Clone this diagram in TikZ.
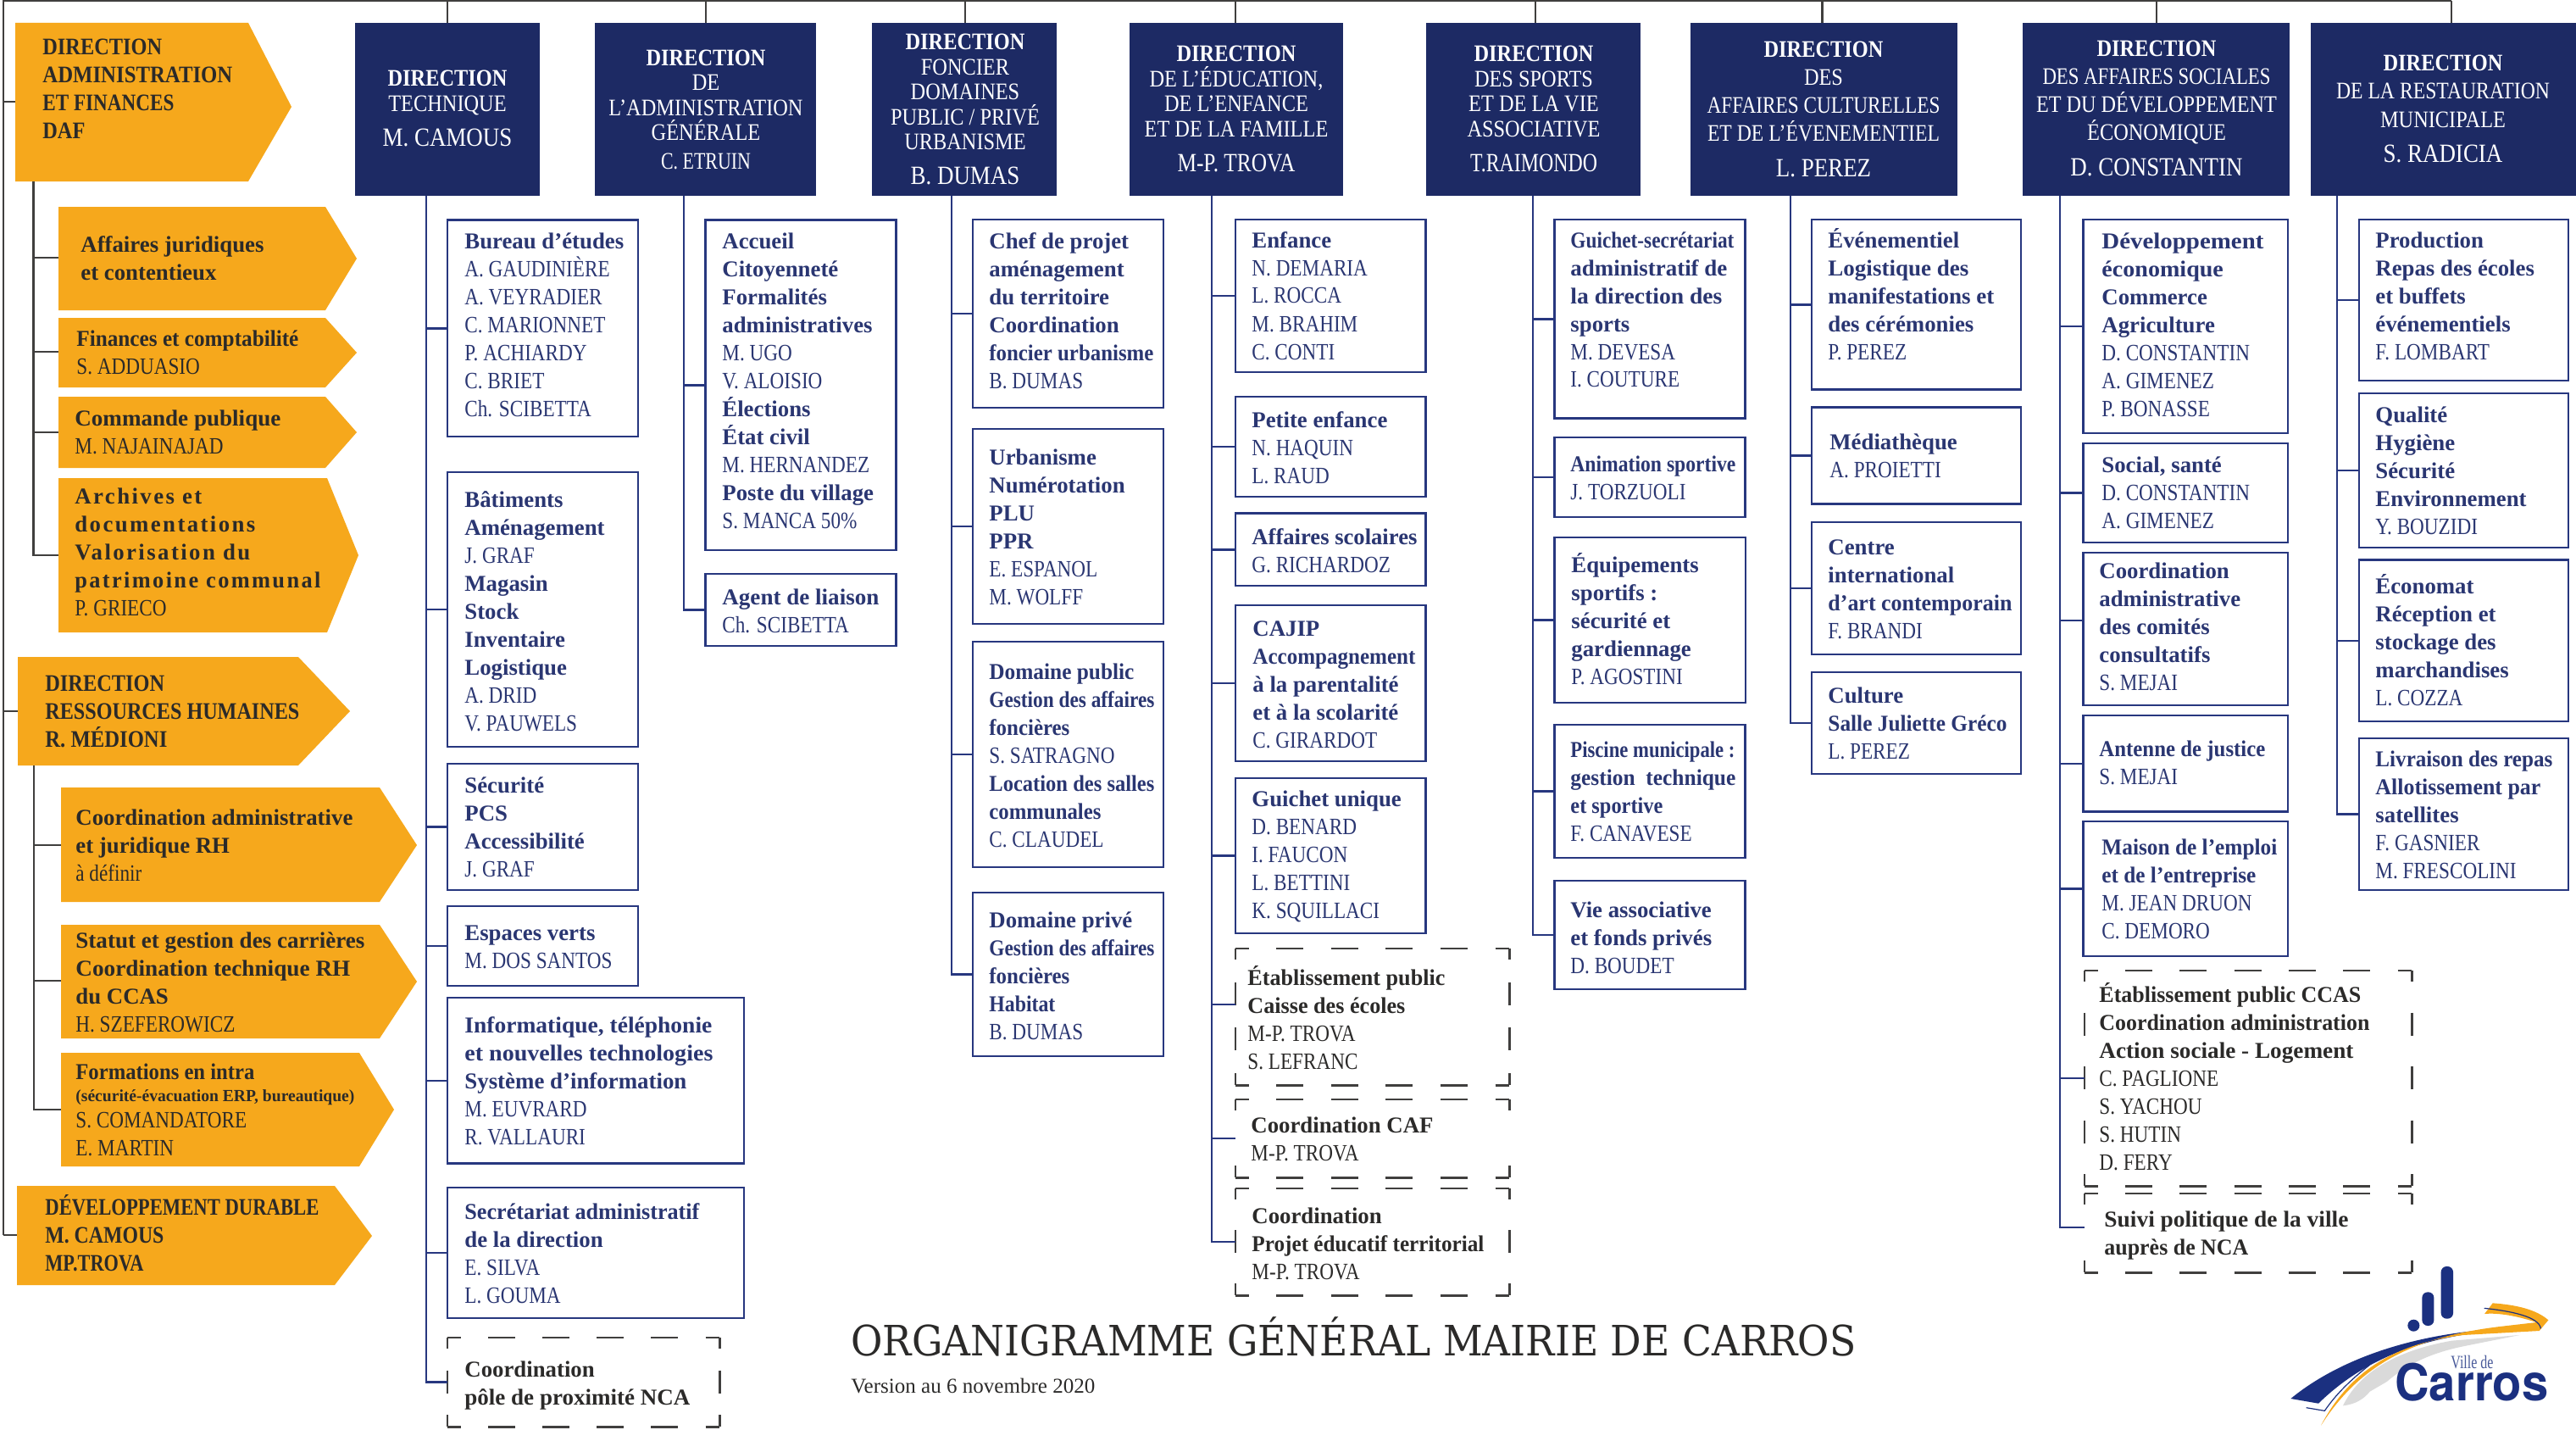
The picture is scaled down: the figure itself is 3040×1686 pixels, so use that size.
\documentclass[tikz,border=0pt]{standalone}
\usepackage{fontspec}
\usepackage{graphicx}
\usetikzlibrary{fit}
\setmainfont{Liberation Serif}
\newfontfamily\nmf{Liberation Serif}[FakeStretch=0.84]
\newfontfamily\hdf{Liberation Serif}[FakeStretch=0.87]
\newfontfamily\arcf{Liberation Serif}[LetterSpace=9]
\newfontfamily\slabf{DejaVu Serif}
\newfontfamily\sansf{TeX Gyre Heros}
\definecolor{hdr}{HTML}{1D2A64}
\definecolor{frm}{HTML}{27377F}
\definecolor{org}{HTML}{F6A81C}
\definecolor{drk}{HTML}{2B2A29}
\definecolor{txn}{HTML}{2A3672}
\definecolor{lgb}{HTML}{1B3080}
\definecolor{lgg}{HTML}{DADADA}
\newcommand\Bo[1]{{\fontsize{13.4}{16.5}\selectfont\bfseries #1}}
\newcommand\Na[1]{{\nmf\fontsize{13.8}{16.5}\selectfont #1}}
\newcommand\Ar[1]{{\arcf\fontsize{13.4}{16.5}\selectfont\bfseries #1}}
\newcommand\Hb[1]{{\hdf\fontsize{14}{14.7}\selectfont\bfseries #1}}
\newcommand\Hr[1]{{\hdf\fontsize{14}{14.7}\selectfont #1}}
\newcommand\Hn[1]{{\hdf\fontsize{15.5}{14.7}\selectfont #1}}
\newsavebox\fitbox
\newcommand\fitw[2]{\sbox\fitbox{#2}\pgfmathsetmacro\fitsx{#1*0.5/(\the\wd\fitbox)}\scalebox{\fitsx}[1]{\usebox\fitbox}}
\newcommand\Bf[2]{\fitw{#1}{\Bo{#2}}}
\newcommand\Hf[2]{\fitw{#1}{\Hb{#2}}}
\newcommand\Rf[2]{\fitw{#1}{\Hr{#2}}}
\newcommand\Mf[2]{\fitw{#1}{\Hn{#2}}}
\newcommand\stkcr[1][0pt]{\cr\noalign{\vskip#1}}
\newcommand\stkl[2]{\vtop{\baselineskip=#1pt\lineskiplimit=-100pt\lineskip=0pt\tabskip=0pt\let\\\stkcr\halign{##\hfil\cr #2\cr}}}
\newcommand\stkc[2]{\vtop{\baselineskip=#1pt\lineskiplimit=-100pt\lineskip=0pt\tabskip=0pt\let\\\stkcr\halign{\hfil##\hfil\cr #2\cr}}}
\tikzset{
  x=0.5pt,y=-0.5pt,
  frame/.style={draw=frm,line width=1.25pt,inner sep=0pt,fill=white},
  hdrbox/.style={fill=hdr,inner sep=0pt},
  orgbox/.style={fill=org},
  conn/.style={draw=frm,line width=1.25pt},
  dconn/.style={draw=drk!90,line width=1.1pt},
  dsh/.style={draw=drk!90,line width=1.1pt},
  tline/.style={anchor=base west,inner sep=0pt,text=txn,font=\fontsize{13.4}{16.5}\selectfont},
  dline/.style={tline,text=drk},
  hline/.style={anchor=base,inner sep=0pt,text=white,font=\fontsize{14}{14.7}\selectfont},
}
\newcommand\bx[8]{\node[frame,fit={(#2,#3) (#4,#5)}] (#1) {};
  \node[tline] (#1t) at (#6,#7) {\stkl{16.5}{#8}};}
\newcommand\hd[6]{\node[hdrbox,fit={(#2,27) (#3,231)}] (#1) {};
  \node[hline] (#1t) at (#4,#5) {\stkc{14.7}{#6}};}
\newcommand\db[9]{\node[fit={(#2,#3) (#4,#5)},inner sep=0pt] (#1) {};
  \pgfmathsetmacro\hn{max(1,round((#4-#2)/63))}
  \pgfmathsetmacro\hoff{(#4-#2)/\hn/2-16}
  \pgfmathsetmacro\voff{(#5-#3)/#6/2-13.5}
  \draw[dsh,dash pattern=on 16pt off \hoff pt,dash phase=8pt] (#1.north west) -- (#1.north east);
  \draw[dsh,dash pattern=on 16pt off \hoff pt,dash phase=8pt] (#1.south west) -- (#1.south east);
  \draw[dsh,dash pattern=on 13.5pt off \voff pt,dash phase=6.75pt] (#1.north west) -- (#1.south west);
  \draw[dsh,dash pattern=on 13.5pt off \voff pt,dash phase=6.75pt] (#1.north east) -- (#1.south east);
  \node[dline] (#1t) at (#7,#8) {\stkl{16.5}{#9}};}
\newcommand\ob[7]{\path[orgbox] (#2,#3) -- (#4,#3) -- (#5,#7) -- (#4,#6) -- (#2,#6) -- cycle;
  \coordinate (#1) at (#2,#7);}
\newcommand\br[2]{\draw[conn] (#2.west) -- (#2.west -| #1);}
\newcommand\obt[4]{\node[dline] (#1) at (#2,#3) {\stkl{16.5}{#4}};}
\begin{document}
\begin{tikzpicture}
\useasboundingbox (0,0) rectangle (3040,1686);
\fill[white] (0,0) rectangle (3040,1686);

%% ---------- top rail
\coordinate (railL) at (4,1);
\coordinate (railR) at (2893,1);
\coordinate (leftEnd) at (4,1457);
\draw[dconn] (railR) -- (railL) -- (leftEnd);

%% ---------- left orange column
\ob{daf}{18}{27}{293}{344}{214}{126}
\ob{aff}{69}{244}{384}{421}{366}{305}
\ob{fin}{69}{375}{384}{421}{457}{416}
\ob{com}{69}{468}{384}{421}{552}{510}
\ob{arc}{69}{564}{386}{423}{746}{655}
\ob{rh}{21}{775}{352}{413}{903}{839}
\ob{coo}{72}{929}{448}{492}{1064}{997}
\ob{sta}{72}{1091}{448}{492}{1225}{1158}
\ob{frm}{72}{1242}{424}{465}{1376}{1309}
\ob{dd}{20}{1399}{395}{439}{1516}{1458}

\coordinate (dafS) at (39.5,214);
\coordinate (rhS) at (40,903);
\coordinate (dafB) at (4,120);\coordinate (dafBe) at (18,120);
\draw[dconn] (dafB) -- (dafBe);
\draw[dconn] (4,839) -- (rh);
\draw[dconn] (leftEnd) -- (dd |- leftEnd);
\draw[dconn] (dafS) |- (arc);
\draw[dconn] (39.5,304) -- (69,304);
\draw[dconn] (39.5,415) -- (69,415);
\draw[dconn] (39.5,510) -- (com);
\draw[dconn] (rhS) |- (frm);
\draw[dconn] (40,997) -- (coo);
\draw[dconn] (40,1157) -- (72,1157);

\obt{daft}{50}{65}{\Hb{DIRECTION}\\\Hf{224}{ADMINISTRATION}\\\Hf{155}{ET FINANCES}\\\Hb{DAF}}
\obt{afft}{95}{297.5}{\Bo{Affaires juridiques}\\\Bo{et contentieux}}
\obt{fint}{90}{408.5}{\Bf{262}{Finances et comptabilité}\\\Na{S. ADDUASIO}}
\obt{comt}{88}{502.5}{\Bf{243}{Commande publique}\\\Na{M. NAJAINAJAD}}
\obt{arct}{88}{594.5}{\Ar{Archives et}\\\Ar{documentations}\\\Ar{Valorisation du}\\\fitw{290}{\Ar{patrimoine communal}}\\\Na{P. GRIECO}}
\obt{rht}{53}{815}{\Hb{DIRECTION}\\\Hf{300}{RESSOURCES HUMAINES}\\\Hf{144}{R. MÉDIONI}}
\obt{coot}{89}{973}{\Bf{327}{Coordination administrative}\\\Bo{et juridique RH}\\\Na{à définir}}
\obt{stat}{89}{1118}{\Bf{341}{Statut et gestion des carrières}\\\Bf{324}{Coordination technique RH}\\\Bo{du CCAS}\\\Na{H. SZEFEROWICZ}}
\node[dline] (frmt) at (89,1273) {\Bf{211}{Formations en intra}};
\node[dline] (frmt2) at (89,1299) {\fitw{329}{\fontsize{10}{12}\selectfont\bfseries (sécurité-évacuation ERP, bureautique)}};
\node[dline] (frmt3) at (89,1330) {\stkl{16.5}{\Na{S. COMANDATORE}\\\Na{E. MARTIN}}};
\obt{ddt}{53}{1433.5}{\Hf{323}{DÉVELOPPEMENT DURABLE}\\\Hf{140}{M. CAMOUS}\\\Hf{116}{MP.TROVA}}

%% ---------- headers
\hd{h1}{419}{637}{528}{102}{\Hb{DIRECTION}\\\Hr{TECHNIQUE}\\[6pt]\Hn{M. CAMOUS}}
\hd{h2}{702}{963}{833}{77.5}{\Hb{DIRECTION}\\\Hr{DE}\\\Hr{L’ADMINISTRATION}\\\Hr{GÉNÉRALE}\\[2pt]\Rf{106}{C. ETRUIN}}
\hd{h3}{1029}{1247}{1139}{59}{\Hb{DIRECTION}\\\Hr{FONCIER}\\\Hr{DOMAINES}\\\Hr{PUBLIC / PRIVÉ}\\\Hr{URBANISME}\\[6pt]\Hn{B. DUMAS}}
\hd{h4}{1332.5}{1585}{1459}{73}{\Hb{DIRECTION}\\\Hr{DE L’ÉDUCATION,}\\\Hr{DE L’ENFANCE}\\\Hr{ET DE LA FAMILLE}\\[6pt]\Mf{139}{M-P. TROVA}}
\hd{h5}{1683}{1936}{1810}{73}{\Hb{DIRECTION}\\\Hr{DES SPORTS}\\\Hr{ET DE LA VIE}\\\Hr{ASSOCIATIVE}\\[6pt]\Mf{150}{T.RAIMONDO}}
\hd{h6}{1994.5}{2310}{2152}{68}{\Hb{DIRECTION}\\[1.8pt]\Hr{DES}\\[1.8pt]\Rf{275}{AFFAIRES CULTURELLES}\\[1.8pt]\Rf{274}{ET DE L’ÉVENEMENTIEL}\\[6pt]\Hn{L. PEREZ}}
\hd{h7}{2387}{2702}{2545}{67}{\Hb{DIRECTION}\\[1.8pt]\Rf{269}{DES AFFAIRES SOCIALES}\\[1.8pt]\Rf{284}{ET DU DÉVELOPPEMENT}\\[1.8pt]\Hr{ÉCONOMIQUE}\\[6pt]\Hn{D. CONSTANTIN}}
\hd{h8}{2727}{3040}{2883}{84}{\Hb{DIRECTION}\\[1.8pt]\Rf{252}{DE LA RESTAURATION}\\[1.8pt]\Hr{MUNICIPALE}\\[6pt]\Hn{S. RADICIA}}
\foreach \dx in {528,833,1139,1458,1812,2150.5,2545,2893}
  \draw[dconn] (\dx,1) -- (\dx,27);

%% ---------- column 1
\coordinate (s1) at (503,231);
\bx{a1}{528}{259.5}{753}{515}{548}{293}{\Bo{Bureau d’études}\\\Na{A. GAUDINIÈRE}\\\Na{A. VEYRADIER}\\\Na{C. MARIONNET}\\\Na{P. ACHIARDY}\\\Na{C. BRIET}\\\Na{Ch. SCIBETTA}}
\bx{a2}{528}{557}{753}{881}{548}{598}{\Bo{Bâtiments}\\\Bo{Aménagement}\\\Na{J. GRAF}\\\Bo{Magasin}\\\Bo{Stock}\\\Bo{Inventaire}\\\Bo{Logistique}\\\Na{A. DRID}\\\Na{V. PAUWELS}}
\bx{a3}{528}{901}{753}{1050}{548}{935}{\Bo{Sécurité}\\\Bo{PCS}\\\Bo{Accessibilité}\\\Na{J. GRAF}}
\bx{a4}{528}{1069}{753}{1163}{548}{1109}{\Bo{Espaces verts}\\\Na{M. DOS SANTOS}}
\bx{a5}{528}{1177}{878}{1372.5}{548}{1218}{\Bf{292}{Informatique, téléphonie}\\\Bf{293}{et nouvelles technologies}\\\Bf{262}{Système d’information}\\\Na{M. EUVRARD}\\\Na{R. VALLAURI}}
\bx{a6}{528}{1401}{878}{1555}{548}{1438}{\Bf{277}{Secrétariat administratif}\\\Bo{de la direction}\\\Na{E. SILVA}\\\Na{L. GOUMA}}
\db{a7}{528}{1578}{849}{1683}{2}{548}{1624.5}{\Bo{Coordination}\\\Bf{266}{pôle de proximité NCA}}
\draw[conn] (s1) |- (a7.west);
\foreach \n in {a1,a2,a3,a4,a5,a6} {\br{s1}{\n}}

%% ---------- column 2
\coordinate (s2) at (807,231);
\bx{b1}{832.5}{259.5}{1057.5}{649}{852}{293}{\Bo{Accueil}\\\Bo{Citoyenneté}\\\Bo{Formalités}\\\Bo{administratives}\\\Na{M. UGO}\\\Na{V. ALOISIO}\\\Bo{Élections}\\\Bo{État civil}\\\Na{M. HERNANDEZ}\\\Bo{Poste du village}\\\Na{S. MANCA 50\%}}
\bx{b2}{832.5}{677}{1057.5}{762}{852}{713}{\Bf{185}{Agent de liaison}\\\Na{Ch. SCIBETTA}}
\draw[conn] (s2) |- (b2.west);
\br{s2}{b1}

%% ---------- column 3
\coordinate (s3) at (1123,231);
\bx{c1}{1148}{259}{1373}{481}{1167}{293}{\Bo{Chef de projet}\\\Bo{aménagement}\\\Bo{du territoire}\\\Bo{Coordination}\\\Bf{194}{foncier urbanisme}\\\Na{B. DUMAS}}
\bx{c2}{1148}{506}{1373}{736}{1167}{548}{\Bo{Urbanisme}\\\Bo{Numérotation}\\\Bo{PLU}\\\Bo{PPR}\\\Na{E. ESPANOL}\\\Na{M. WOLFF}}
\bx{c3}{1148}{757}{1373}{1023}{1167}{801}{\Bf{171}{Domaine public}\\\Bf{195}{Gestion des affaires}\\\Bf{95}{foncières}\\\Na{S. SATRAGNO}\\\Bf{195}{Location des salles}\\\Bf{132}{communales}\\\Na{C. CLAUDEL}}
\bx{c4}{1148}{1053}{1373}{1246}{1167}{1094}{\Bo{Domaine privé}\\\Bf{195}{Gestion des affaires}\\\Bf{95}{foncières}\\\Bf{78}{Habitat}\\\Na{B. DUMAS}}
\draw[conn] (s3) |- (c4.west);
\foreach \n in {c1,c2,c3} {\br{s3}{\n}}

%% ---------- column 4
\coordinate (s4) at (1430,231);
\bx{d1}{1458}{259}{1682.5}{439}{1477}{292}{\Bo{Enfance}\\\Na{N. DEMARIA}\\\Na{L. ROCCA}\\\Na{M. BRAHIM}\\\Na{C. CONTI}}
\bx{d2}{1458}{468}{1682.5}{586}{1477}{504}{\Bo{Petite enfance}\\\Na{N. HAQUIN}\\\Na{L. RAUD}}
\bx{d3}{1458}{605.6}{1682.5}{691}{1477}{642}{\Bf{195}{Affaires scolaires}\\\Na{G. RICHARDOZ}}
\bx{d4}{1458}{714}{1682.5}{898}{1478}{750}{\Bo{CAJIP}\\\Bf{192}{Accompagnement}\\\Bo{à la parentalité}\\\Bo{et à la scolarité}\\\Na{C. GIRARDOT}}
\bx{d5}{1458}{918}{1682.5}{1101}{1477}{951}{\Bo{Guichet unique}\\\Na{D. BENARD}\\\Na{I. FAUCON}\\\Na{L. BETTINI}\\\Na{K. SQUILLACI}}
\db{d6}{1458}{1119}{1781}{1280}{3}{1472}{1162}{\Bf{233}{Établissement public}\\\Bf{186}{Caisse des écoles}\\\Na{M-P. TROVA}\\\Na{S. LEFRANC}}
\db{d7}{1458}{1297}{1781}{1389}{1}{1476}{1336.5}{\Bo{Coordination CAF}\\\Na{M-P. TROVA}}
\db{d8}{1458}{1402}{1781}{1528}{2}{1477}{1443}{\Bo{Coordination}\\\Bf{274}{Projet éducatif territorial}\\\Na{M-P. TROVA}}
\draw[conn] (s4) |- (d8.west);
\foreach \n in {d1,d2,d3,d4,d5,d7} {\br{s4}{\n}}
\coordinate (d6c) at (1458,1185);
\draw[conn] (d6c) -- (d6c -| s4);

%% ---------- column 5
\coordinate (s5) at (1809,231);
\bx{e1}{1834.5}{259}{2059.5}{493.5}{1853}{292}{\Bf{193}{Guichet-secrétariat}\\\Bf{185}{administratif de}\\\Bf{179}{la direction des}\\\Bo{sports}\\\Na{M. DEVESA}\\\Na{I. COUTURE}}
\bx{e2}{1834.5}{516}{2059.5}{610}{1853}{556}{\Bf{195}{Animation sportive}\\\Na{J. TORZUOLI}}
\bx{e3}{1834.5}{634}{2060}{829}{1854}{675}{\Bo{Équipements}\\\Bo{sportifs :}\\\Bo{sécurité et}\\\Bo{gardiennage}\\\Na{P. AGOSTINI}}
\bx{e4}{1834.5}{855}{2059.5}{1012}{1853}{893}{\Bf{194}{Piscine municipale :}\\\Bf{195}{gestion\ \ technique}\\\Bf{109}{et sportive}\\\Na{F. CANAVESE}}
\bx{e5}{1834.5}{1039}{2059.5}{1167}{1853}{1082}{\Bo{Vie associative}\\\Bo{et fonds privés}\\\Na{D. BOUDET}}
\draw[conn] (s5) |- (e5.west);
\foreach \n in {e1,e2,e3,e4} {\br{s5}{\n}}

%% ---------- column 6
\coordinate (s6) at (2113,231);
\bx{f1}{2138}{259}{2385}{459.5}{2157}{292}{\Bo{Événementiel}\\\Bf{166}{Logistique des}\\\Bf{196}{manifestations et}\\\Bo{des cérémonies}\\\Na{P. PEREZ}}
\bx{f2}{2138}{480.6}{2385}{594.5}{2159}{530}{\Bo{Médiathèque}\\\Na{A. PROIETTI}}
\bx{f3}{2138}{616}{2385}{772}{2157}{654}{\Bo{Centre}\\\Bo{international}\\\Bf{217}{d’art contemporain}\\\Na{F. BRANDI}}
\bx{f4}{2138}{793}{2385}{913}{2157}{829}{\Bo{Culture}\\\Bf{211}{Salle Juliette Gréco}\\\Na{L. PEREZ}}
\draw[conn] (s6) |- (f4.west);
\foreach \n in {f1,f2,f3} {\br{s6}{\n}}

%% ---------- column 7
\coordinate (s7) at (2431,231);
\bx{g1}{2458.5}{259}{2700}{511}{2480}{293}{\Bf{191}{Développement}\\\Bf{143.5}{économique}\\\Bo{Commerce}\\\Bo{Agriculture}\\\Na{D. CONSTANTIN}\\\Na{A. GIMENEZ}\\\Na{P. BONASSE}}
\bx{g2}{2458.5}{523}{2700}{640}{2480}{557}{\Bo{Social, santé}\\\Na{D. CONSTANTIN}\\\Na{A. GIMENEZ}}
\bx{g3}{2458.5}{652}{2700}{832}{2477}{682}{\Bo{Coordination}\\\Bo{administrative}\\\Bo{des comités}\\\Bo{consultatifs}\\\Na{S. MEJAI}}
\bx{g4}{2458.5}{844}{2700}{957.5}{2477}{892}{\Bf{196}{Antenne de justice}\\\Na{S. MEJAI}}
\bx{g5}{2458.5}{969}{2700}{1128}{2480}{1008}{\Bf{207}{Maison de l’emploi}\\\Bf{182}{et de l’entreprise}\\\Na{M. JEAN DRUON}\\\Na{C. DEMORO}}
\db{g6}{2460}{1145}{2846}{1399}{4}{2477}{1182}{\Bf{309}{Établissement public CCAS}\\\Bf{319}{Coordination administration}\\\Bf{300}{Action sociale - Logement}\\\Na{C. PAGLIONE}\\\Na{S. YACHOU}\\\Na{S. HUTIN}\\\Na{D. FERY}}
\db{g7}{2460}{1408}{2846}{1501}{1}{2483}{1447}{\Bf{288}{Suivi politique de la ville}\\\Bf{170}{auprès de NCA}}
\coordinate (g7c) at (2460,1448);
\draw[conn] (s7) |- (g7c);
\foreach \n in {g1,g2,g4,g5,g6} {\br{s7}{\n}}
\coordinate (g3c) at (2458.5,732);
\draw[conn] (g3c) -- (g3c -| s7);

%% ---------- column 8
\coordinate (s8) at (2758,231);
\bx{k1}{2784}{259}{3031}{449}{2803}{292}{\Bo{Production}\\\Bo{Repas des écoles}\\\Bo{et buffets}\\\Bo{événementiels}\\\Na{F. LOMBART}}
\bx{k2}{2784}{464}{3031}{646}{2803}{498}{\Bo{Qualité}\\\Bo{Hygiène}\\\Bo{Sécurité}\\\Bo{Environnement}\\\Na{Y. BOUZIDI}}
\bx{k3}{2784}{660.5}{3031}{851}{2803}{700}{\Bo{Économat}\\\Bo{Réception et}\\\Bo{stockage des}\\\Bo{marchandises}\\\Na{L. COZZA}}
\bx{k4}{2784}{871}{3031}{1050}{2803}{904}{\Bf{209}{Livraison des repas}\\\Bf{195}{Allotissement par}\\\Bo{satellites}\\\Na{F. GASNIER}\\\Na{M. FRESCOLINI}}
\draw[conn] (s8) |- (k4.west);
\foreach \n in {k1,k2,k3} {\br{s8}{\n}}

%% ---------- title
\node[anchor=base west,inner sep=0pt,text=drk] (title) at (1004,1599) {\fitw{1186}{\slabf\fontsize{24.7}{28}\selectfont ORGANIGRAMME GÉNÉRAL MAIRIE DE CARROS}};
\node[anchor=base west,inner sep=0pt,text=drk] (version) at (1004,1643) {\fitw{288}{\fontsize{12.5}{14}\selectfont Version au 6 novembre 2020}};

%% ---------- logo (zoom coordinates, 3x)
\begin{scope}[shift={(2640,1460)},x=0.16667pt,y=-0.16667pt]
  \fill[lgg] (375,595) .. controls (430,480) and (560,400) .. (760,365) -- (1000,345) -- (800,385) .. controls (680,410) and (600,450) .. (530,510) -- (470,545) .. controls (450,570) and (420,590) .. (375,595) -- cycle;
  \fill[lgb] (190,570) .. controls (360,430) and (650,320) .. (1040,320) .. controls (700,335) and (470,410) .. (288,587) -- cycle;
  \fill[org] (297,665) .. controls (400,470) and (560,375) .. (800,345) -- (1070,330) -- (1102,292) .. controls (1060,255) and (990,238) .. (905,232) -- (876,270) .. controls (930,265) and (1000,280) .. (1060,300) -- (930,315) .. controls (640,350) and (440,440) .. (297,665) -- cycle;
  \draw[lgb,line width=0.6pt] (245,602) -- (310,613) .. controls (360,540) and (420,490) .. (470,450);
  \draw[lgb,line width=0.6pt] (875,250) .. controls (970,260) and (1070,280) .. (1075,322);
  \fill[lgb] (625,311) circle (21);
  \fill[lgb,rounded corners=3.3pt] (655,193) rectangle (697,312);
  \fill[lgb,rounded corners=3.3pt] (722,102) rectangle (765,287);
\end{scope}
\node[anchor=base west,inner sep=0pt,text=lgb] (carros) at (2826,1652) {\fitw{181}{\sansf\bfseries\fontsize{30}{32}\selectfont Carros}};
\node[anchor=base west,inner sep=0pt,text=lgb!80] (ville) at (2892,1614) {\fitw{50}{\fontsize{11}{12}\selectfont Ville de}};
\end{tikzpicture}
\end{document}
